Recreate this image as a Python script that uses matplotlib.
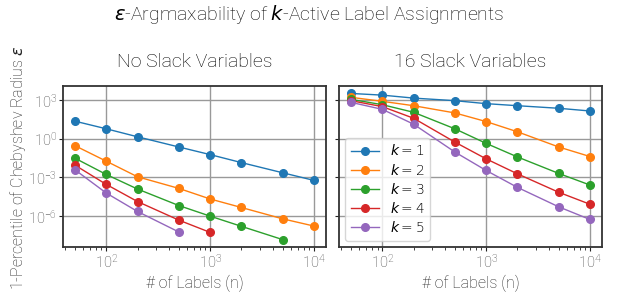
import matplotlib
matplotlib.use("Agg")
import matplotlib.pyplot as plt
import numpy as np

plt.rcParams['font.family'] = ['Roboto', 'DejaVu Sans']
plt.rcParams['font.weight'] = 'light'

labels_n = [50, 100, 200, 500, 1000, 2000, 5000, 10000]

# log10 of epsilon, no slack
no_slack = {
    1: [1.36, 0.77, 0.15, -0.64, -1.23, -1.85, -2.64, -3.23],
    2: [-0.54, -1.74, -2.95, -3.85, -4.67, -5.33, -6.21, -6.77],
    3: [-1.51, -2.77, -3.90, -5.18, -6.00, -6.79, -7.82],
    4: [-2.05, -3.54, -4.87, -6.31, -7.26],
    5: [-2.41, -4.21, -5.64, -7.23],
}
no_slack_n = {
    1: [50, 100, 200, 500, 1000, 2000, 5000, 10000],
    2: [50, 100, 200, 500, 1000, 2000, 5000, 10000],
    3: [50, 100, 200, 500, 1000, 2000, 5000],
    4: [50, 100, 200, 500, 1000],
    5: [50, 100, 200, 500],
}
# log10 of epsilon, 16 slack variables
slack16 = {
    1: [3.51, 3.38, 3.15, 2.95, 2.72, 2.56, 2.36, 2.15],
    2: [3.21, 2.90, 2.56, 2.00, 1.33, 0.54, -0.64, -1.38],
    3: [3.05, 2.64, 2.05, 0.77, -0.36, -1.41, -2.69, -3.59],
    4: [2.95, 2.49, 1.59, -0.26, -1.56, -2.72, -4.15, -5.08],
    5: [2.82, 2.28, 1.13, -1.03, -2.46, -3.77, -5.28, -6.26],
}

colors = ['#1f77b4', '#ff7f0e', '#2ca02c', '#d62728', '#9467bd']
ks = [1, 2, 3, 4, 5]

fig, axes = plt.subplots(1, 2, figsize=(6.18, 2.95), dpi=100, sharey=True)
fig.subplots_adjust(left=0.102, right=0.974, top=0.708, bottom=0.163, wspace=0.05)

for ax, data, title in [(axes[0], no_slack, 'No Slack Variables'),
                        (axes[1], slack16, '16 Slack Variables')]:
    for k, c in zip(ks, colors):
        xs = no_slack_n[k] if data is no_slack else labels_n
        ax.plot(xs, 10 ** np.array(data[k]), '-o', color=c, lw=1.0, ms=5.5,
                label=f'$k = {k}$')
    ax.set_xscale('log')
    ax.set_yscale('log')
    ax.set_title(title, fontsize=14, pad=14, fontweight='light')
    ax.set_xlabel('# of Labels (n)', fontsize=11.5, fontweight='light', labelpad=3,
                  color='#222222')
    ax.grid(True, color='#999999', lw=1.0)
    ax.set_axisbelow(True)
    for s in ax.spines.values():
        s.set_color('#333333')
        s.set_linewidth(1.3)
    ax.tick_params(which='major', length=3, width=0.8, pad=1.5, colors='#222222',
                   labelsize=10.5, labelcolor='#444444')
    ax.tick_params(which='minor', length=2, width=0.6, colors='#222222')

axes[0].set_yticks([1e-6, 1e-3, 1e0, 1e3])
axes[0].yaxis.set_minor_locator(matplotlib.ticker.NullLocator())
axes[0].set_ylabel('1-Percentile of Chebyshev Radius $\\epsilon$', fontsize=11.5,
                   fontweight='light', color='#222222')
axes[0].yaxis.set_label_coords(-0.133, 0.49)
axes[1].legend(loc='lower left', fontsize=10, framealpha=0.8, labelspacing=0.3,
               handlelength=2.0, borderaxespad=0.45)

fig.suptitle('$\\epsilon$-Argmaxability of $k$-Active Label Assignments',
             fontsize=14, y=0.99, va='top', fontweight='light')

fig.savefig('out.png', dpi=100)
